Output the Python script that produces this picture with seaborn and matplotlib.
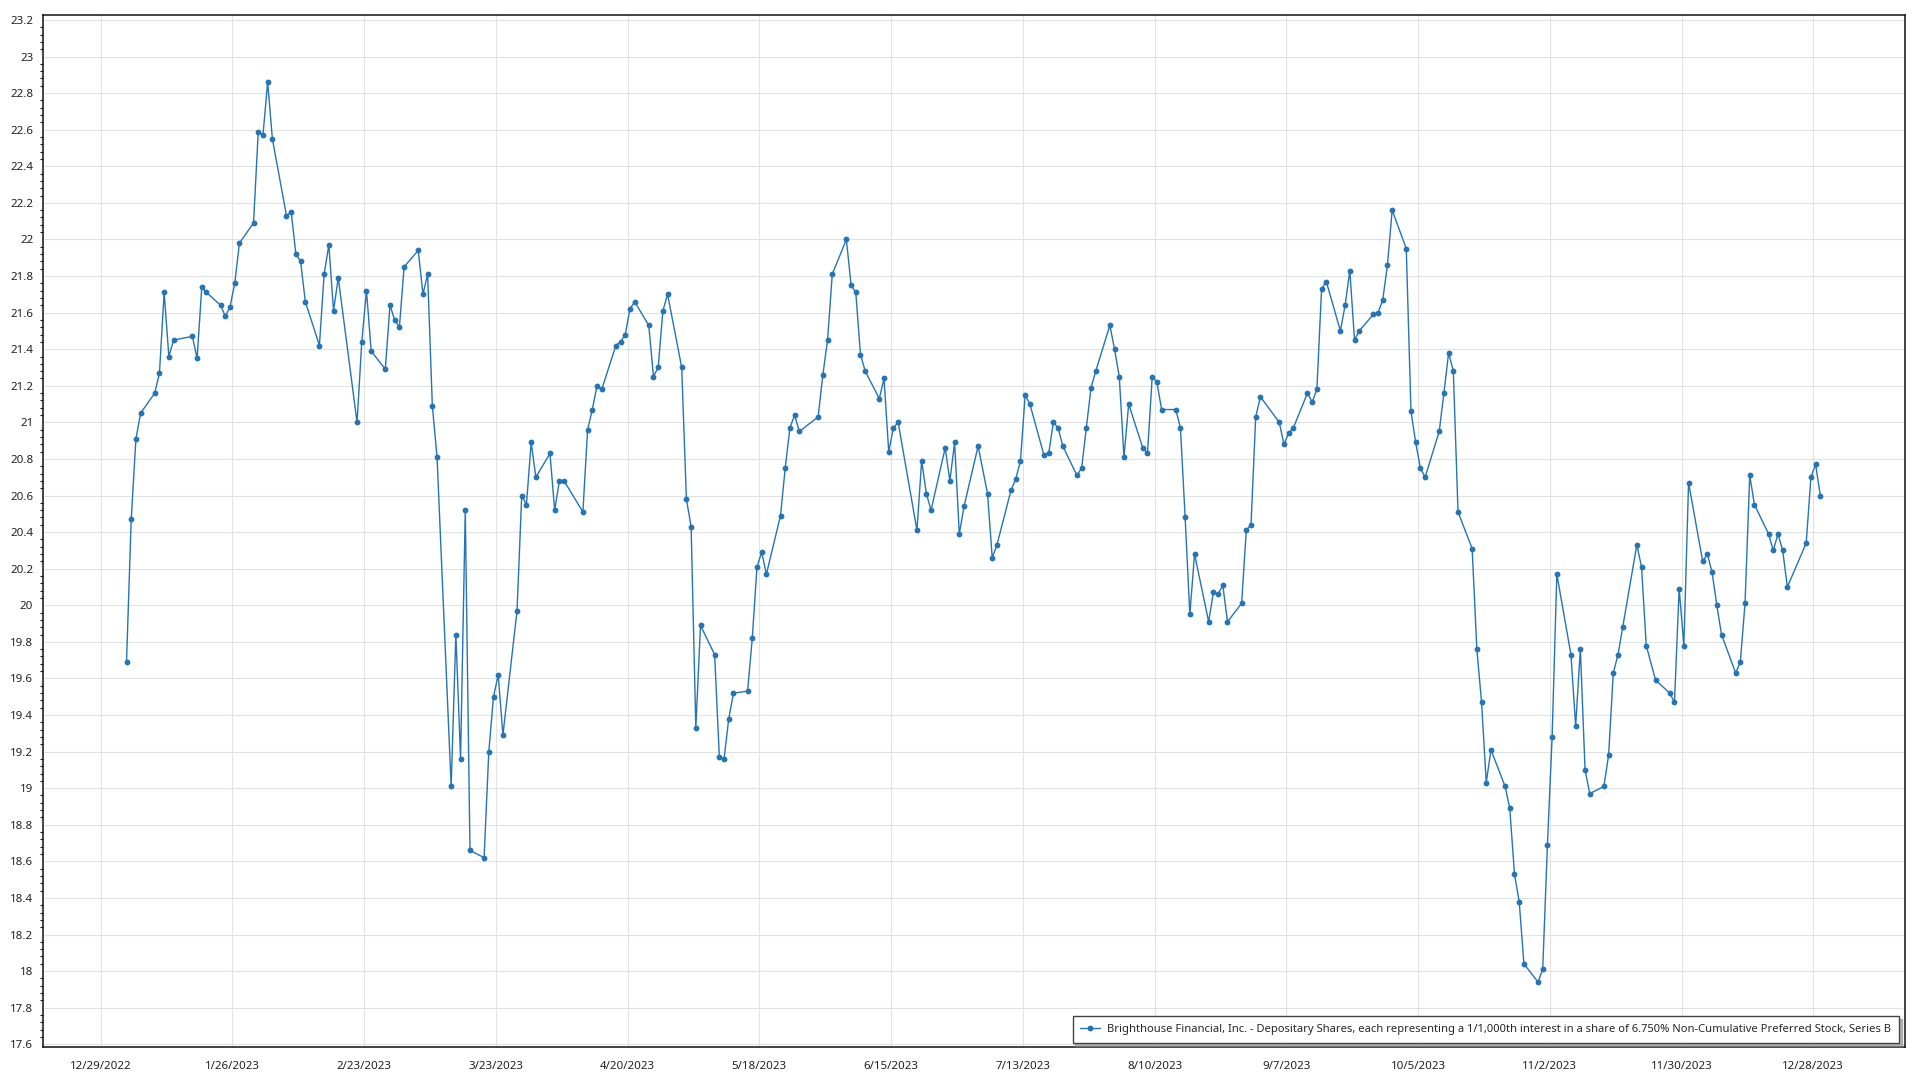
import numpy as np
import pandas as pd
import matplotlib
matplotlib.use("Agg")
import matplotlib.pyplot as plt
from matplotlib.ticker import MultipleLocator, FuncFormatter
import seaborn as sns

# ---------------- data (closing prices, 2023 trading days) ----------------
jan = [19.69, 20.47, 20.91, 21.05, 21.16, 21.27, 21.71, 21.36, 21.45, 21.47,
       21.35, 21.74, 21.71, 21.64, 21.58, 21.63, 21.76, 21.98, 22.09, 22.59]
feb = [22.57, 22.86, 22.55, 22.13, 22.15, 21.92, 21.88, 21.66, 21.42, 21.81,
       21.97, 21.61, 21.79, 21.00, 21.44, 21.72, 21.39, 21.29, 21.64]
mar = [21.56, 21.52, 21.85, 21.94, 21.70, 21.81, 21.09, 20.81, 19.01, 19.84,
       19.16, 20.52, 18.66, 18.62, 19.20, 19.50, 19.62, 19.29, 19.97, 20.60,
       20.55, 20.89, 20.70]
apr = [20.83, 20.52, 20.68, 20.68, 20.51, 20.96, 21.07, 21.20, 21.18, 21.42,
       21.44, 21.48, 21.62, 21.66, 21.53, 21.25, 21.30, 21.61, 21.70]
may = [21.30, 20.58, 20.43, 19.33, 19.89, 19.73, 19.17, 19.16, 19.38, 19.52,
       19.53, 19.82, 20.21, 20.29, 20.17, 20.49, 20.75, 20.97, 21.04, 20.95,
       21.03, 21.26]
jun = [21.45, 21.81, 22.00, 21.75, 21.71, 21.37, 21.28, 21.13, 21.24, 20.84,
       20.97, 21.00, 20.41, 20.79, 20.61, 20.52, 20.86, 20.68, 20.89, 20.39,
       20.54]
jul = [20.87, 20.61, 20.26, 20.33, 20.63, 20.69, 20.79, 21.15, 21.10, 20.82,
       20.83, 21.00, 20.97, 20.87, 20.71, 20.75, 20.97, 21.19, 21.28, 21.53]
aug = [21.40, 21.25, 20.81, 21.10, 20.86, 20.83, 21.25, 21.22, 21.07, 21.07,
       20.97, 20.48, 19.95, 20.28, 19.91, 20.07, 20.06, 20.11, 19.91, 20.01,
       20.41, 20.44, 21.03]
sep = [21.14, 21.00, 20.88, 20.94, 20.97, 21.16, 21.11, 21.18, 21.73, 21.77,
       21.50, 21.64, 21.83, 21.45, 21.50, 21.59, 21.60, 21.67, 21.86, 22.16]
oct_ = [21.95, 21.06, 20.89, 20.75, 20.70, 20.95, 21.16, 21.38, 21.28, 20.51,
        20.31, 19.76, 19.47, 19.03, 19.21, 19.01, 18.89, 18.53, 18.38, 18.04,
        17.94, 18.01]
nov = [18.69, 19.28, 20.17, 19.73, 19.34, 19.76, 19.10, 18.97, 19.01, 19.18,
       19.63, 19.73, 19.88, 20.33, 20.21, 19.78, 19.59, 19.52, 19.47, 20.09,
       19.78]
dec = [20.67, 20.24, 20.28, 20.18, 20.00, 19.84, 19.63, 19.69, 20.01, 20.71,
       20.55, 20.39, 20.30, 20.39, 20.30, 20.10, 20.34, 20.70, 20.77, 20.60]

market_holidays = ["2023-01-02", "2023-01-16", "2023-02-20", "2023-04-07",
                   "2023-05-29", "2023-06-19", "2023-07-04", "2023-09-04",
                   "2023-11-23", "2023-12-25"]

tick_labels = ["12/29/2022", "1/26/2023", "2/23/2023", "3/23/2023", "4/20/2023",
               "5/18/2023", "6/15/2023", "7/13/2023", "8/10/2023", "9/7/2023",
               "10/5/2023", "11/2/2023", "11/30/2023", "12/28/2023"]

series_name = ("Brighthouse Financial, Inc. - Depositary Shares, each representing a "
               "1/1,000th interest in a share of 6.750% Non-Cumulative Preferred Stock, Series B")

# ---------------- build frame ----------------
prices = jan + feb + mar + apr + may + jun + jul + aug + sep + oct_ + nov + dec
days = pd.bdate_range("2023-01-02", "2023-12-29", freq="C", holidays=market_holidays)
n = min(len(days), len(prices))
df = pd.DataFrame({"date": days[:n] + pd.Timedelta(hours=12), "price": prices[:n]})

# ---------------- style ----------------
sns.set_style("white")
plt.rcParams["font.family"] = ["Noto Sans", "DejaVu Sans"]

W, H = 1920, 1080
fig = plt.figure(figsize=(W / 100, H / 100), dpi=100)
ax_l, ax_r, ax_t, ax_b = 43, 1905, 15, 1047
ax = fig.add_axes([ax_l / W, 1 - ax_b / H, (ax_r - ax_l) / W, (ax_b - ax_t) / H])

line_color = "#2574b4"
sns.lineplot(data=df, x="date", y="price", ax=ax, color=line_color,
             linewidth=1.0, marker="o", markersize=4.2, markeredgewidth=0,
             label=series_name)

# axes ranges
tick_pos = pd.to_datetime(tick_labels, format="%m/%d/%Y")
ax.set_xlim(pd.Timestamp("2022-12-16 18:00"), pd.Timestamp("2024-01-16 12:00"))
ax.set_ylim(17.585, 23.227)

ax.set_xticks(tick_pos)
ax.set_xticklabels(tick_labels)
ax.yaxis.set_major_locator(MultipleLocator(0.2))
ax.yaxis.set_minor_locator(MultipleLocator(0.04))
ax.yaxis.set_major_formatter(FuncFormatter(lambda v, p: f"{round(v, 2):g}"))

ax.grid(True, which="major", axis="both", color="#e2e2e2", linewidth=0.8)
ax.set_axisbelow(True)

ax.tick_params(axis="both", which="major", direction="out", length=4, width=0.9,
               color="#111111", labelsize=8.3, labelcolor="#222222", pad=3)
ax.tick_params(axis="y", which="minor", direction="out", length=2.2, width=0.8,
               color="#111111", left=True)
ax.tick_params(axis="x", which="major", pad=6)

for s in ax.spines.values():
    s.set_visible(True)
    s.set_color("#111111")
    s.set_linewidth(1.1)

ax.set_xlabel("")
ax.set_ylabel("")

leg = ax.legend(loc="lower right", bbox_to_anchor=(1 - 6 / (ax_r - ax_l), 4 / (ax_b - ax_t)),
                borderaxespad=0, fancybox=False, shadow={"color": "#888888", "alpha": 0.6},
                framealpha=1, edgecolor="#444444", fontsize=8.05, handlelength=1.8,
                borderpad=0.7, handletextpad=0.6)
leg.get_frame().set_linewidth(1.0)

fig.savefig("out.png", dpi=100, facecolor="white")
